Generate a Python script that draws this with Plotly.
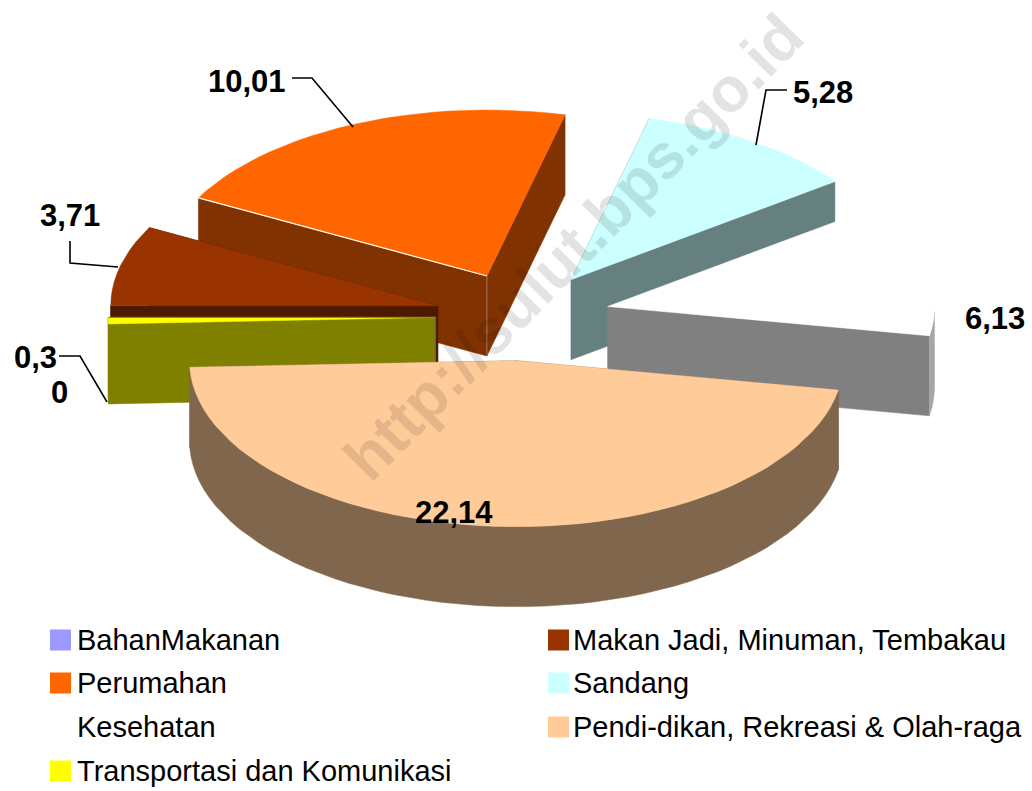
import numpy as np
import plotly.graph_objects as go

# ---- data ----
categories = ["BahanMakanan", "Makan Jadi, Minuman, Tembakau", "Perumahan", "Sandang",
              "Kesehatan", "Pendi-dikan, Rekreasi & Olah-raga", "Transportasi dan Komunikasi"]
values = [0, 3.71, 10.01, 5.28, 6.13, 22.14, 0.3]
value_labels = ["0", "3,71", "10,01", "5,28", "6,13", "22,14", "0,3"]

# ---- style ----
top_colors = ["#9999ff", "#993300", "#ff6600", "#ccffff", "#ffffff", "#ffcc99", "#ffff00"]
side_colors = ["#4d4d80", "#4d1a00", "#803300", "#668080", "#808080", "#80664d", "#808000"]
rim_colors = ["#4d4d80", "#4d1a00", "#803300", "#668080", "#a6a6a6", "#80664d", "#808000"]
draw_order = [2, 1, 3, 4, 6, 5]
font = "Liberation Sans, Arial, sans-serif"

# ---- pie projection (plot area in pixels) ----
CX, CY, RX, RY, DEPTH, EXPLODE, START = 522.5, 316.5, 327, 166, 80, 0.267, 180.0
STEP = 3.0


def ell(t):
    r = np.radians(t)
    return RX * np.cos(r), RY * np.sin(r)


fig = go.Figure()


def poly(xs, ys, color, width=0.5, line=None):
    fig.add_trace(go.Scatter(x=list(xs), y=list(ys), mode="lines", fill="toself", fillcolor=color,
                             line=dict(color=line or color, width=width), hoverinfo="skip",
                             showlegend=False))


def stroke(xs, ys, color, width=1.0):
    fig.add_trace(go.Scatter(x=list(xs), y=list(ys), mode="lines",
                             line=dict(color=color, width=width), hoverinfo="skip", showlegend=False))


total = sum(values)
edges = np.cumsum([0] + values) / total * 360 + START
for i in draw_order:
    a0, a1 = edges[i], edges[i + 1]
    mid = (a0 + a1) / 2
    ex, ey = ell(mid)
    ax, ay = CX + EXPLODE * ex, CY + EXPLODE * ey
    n = max(2, int(np.ceil((a1 - a0) / STEP)) + 1)
    ts = np.linspace(a0, a1, n)
    px = np.array([ax + ell(t)[0] for t in ts])
    py = np.array([ay + ell(t)[1] for t in ts])
    # cut faces (only the one turned to the viewer for the white slice)
    faces = (-1,) if categories[i] == "Kesehatan" else (0, -1)
    for k in faces:
        poly([ax, px[k], px[k], ax, ax], [ay, py[k], py[k] + DEPTH, ay + DEPTH, ay], side_colors[i])
    # outer rim (front part only)
    front = np.sin(np.radians(ts)) >= -1e-9
    if front.any():
        fx, fy = px[front], py[front]
        poly(np.r_[fx, fx[::-1], fx[0]], np.r_[fy, fy[::-1] + DEPTH, fy[0]], rim_colors[i])
    # top
    poly(np.r_[ax, px, ax], np.r_[ay, py, ay], top_colors[i])
    # thin highlights seen in the picture
    if categories[i] == "Perumahan":
        stroke([ax, px[0]], [ay, py[0]], "#ffffff", 1.2)
        stroke([ax, ax], [ay, ay + DEPTH], "#b08a70", 0.8)
    if categories[i].startswith("Transportasi"):
        stroke([px[0], ax, ax], [py[-1], ay, ay + DEPTH], "#666666", 0.8)

# ---- legend ----
leg_x = [50, 548]
leg_text_x = [75, 571]
leg_y = [640, 683, 727, 771]
for idx, name in enumerate(categories):
    col, row = idx % 2, idx // 2
    fig.add_trace(go.Scatter(x=[leg_x[col] + 10.5], y=[leg_y[row]], mode="markers",
                             marker=dict(symbol="square", size=21, color=top_colors[idx], line=dict(width=0)),
                             hoverinfo="skip", showlegend=False))
ann = []
for idx, name in enumerate(categories):
    col, row = idx % 2, idx // 2
    ann.append(dict(x=leg_text_x[col], y=leg_y[row], text=name, xanchor="left", yanchor="middle",
                    showarrow=False, font=dict(family=font, size=29, color="#000000")))

# ---- data labels ----
label_pos = {0: (59, 392), 1: (70, 215), 2: (247, 81), 3: (823, 92), 4: (995, 318), 5: (454, 512), 6: (35, 357)}
for i, (lx, ly) in label_pos.items():
    ann.append(dict(x=lx, y=ly, text=value_labels[i], xanchor="center", yanchor="middle", showarrow=False,
                    font=dict(family=font, size=31, color="#000000", weight="bold")))

# leader lines
leaders = [([292, 312, 353], [78, 78, 127]), ([787, 766, 756], [90, 90, 145]),
           ([70, 70, 118], [241, 263, 267]), ([59, 80, 107], [356, 356, 402])]
for lx, ly in leaders:
    stroke(lx, ly, "#000000", 1.6)

# watermark
ann.append(dict(x=573, y=247, text="http://sulut.bps.go.id", textangle=-45.5, showarrow=False,
                xanchor="center", yanchor="middle",
                font=dict(family=font, size=63, color="rgba(0,0,0,0.11)", weight="bold")))

fig.update_layout(width=1032, height=791, margin=dict(l=0, r=0, t=0, b=0), autosize=False,
                  paper_bgcolor="#ffffff", plot_bgcolor="#ffffff", showlegend=False,
                  xaxis=dict(range=[0, 1032], visible=False, fixedrange=True),
                  yaxis=dict(range=[791, 0], visible=False, fixedrange=True),
                  annotations=ann)
fig.write_html("out.html", config=dict(displayModeBar=False),
               post_script="document.body.style.margin='0';document.body.style.overflow='hidden';")
